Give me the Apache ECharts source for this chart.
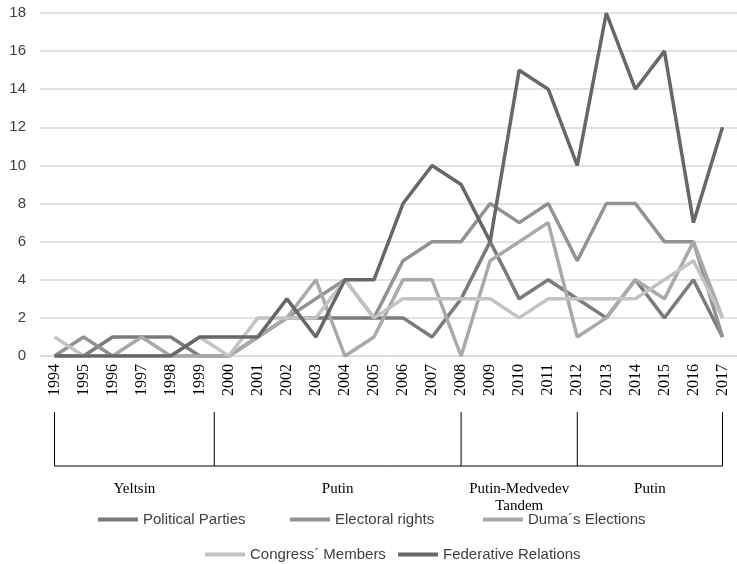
<!DOCTYPE html>
<html>
<head>
<meta charset="utf-8">
<script src="https://cdn.jsdelivr.net/npm/echarts@6/dist/echarts.min.js"></script>
<style>
  html, body { margin: 0; padding: 0; background: #fff; }
  #container { width: 737px; height: 564px; }
</style>
</head>
<body>
<div id="container"></div>
<script>
// years on the x axis
var years = ['1994','1995','1996','1997','1998','1999','2000','2001','2002','2003','2004','2005',
             '2006','2007','2008','2009','2010','2011','2012','2013','2014','2015','2016','2017'];

var politicalParties   = [0,0,1,1,1,0, 0,1,2,2,2,2, 2,1,3,6,3,4, 3,2,4,2,4,1];
var electoralRights    = [0,1,0,0,0,0, 0,1,2,3,4,2, 5,6,6,8,7,8, 5,8,8,6,6,1];
var dumaElections      = [0,0,0,1,0,0, 0,1,2,4,0,1, 4,4,0,5,6,7, 1,2,4,3,6,2];
var congressMembers    = [1,0,0,0,0,1, 0,2,2,2,4,2, 3,3,3,3,2,3, 3,3,3,4,5,2];
var federativeRelations= [0,0,0,0,0,1, 1,1,3,1,4,4, 8,10,9,6,15,14, 10,18,14,16,7,12];

var seriesNames = ['Political Parties', 'Electoral rights', 'Duma\u00B4s Elections', 'Congress\u00B4 Members', 'Federative Relations'];
var seriesData  = [politicalParties, electoralRights, dumaElections, congressMembers, federativeRelations];
var seriesColors = ['#7b7b7b', '#929292', '#a9a9a9', '#c3c3c3', '#676767'];

// presidencies: boundaries in year units (1999.5 = between 1999 and 2000)
var eraNames  = ['Yeltsin', 'Putin', 'Putin-Medvedev\nTandem', 'Putin'];
var eraBounds = [1994, 1999.5, 2008, 2012, 2017];

// legend placement (two rows, like the original)
var legendLeft = [93, 285, 478, 200, 393];
var legendTop  = [507, 507, 507, 542, 542];

var series = [];
var legends = [];
for (var i = 0; i < seriesNames.length; i++) {
    series.push({
        name: seriesNames[i],
        type: 'line',
        data: seriesData[i],
        symbol: 'none',
        lineStyle: { width: 3.5, color: seriesColors[i] },
        itemStyle: { color: seriesColors[i] },
        z: i === 4 ? 3 : 2
    });
    legends.push({
        data: [seriesNames[i]],
        left: legendLeft[i],
        top: legendTop[i],
        icon: 'rect',
        itemWidth: 40,
        itemHeight: 4,
        itemGap: 4,
        textStyle: { color: '#404040', fontSize: 15, fontFamily: 'Liberation Sans Narrow, Liberation Sans, sans-serif' }
    });
}

var option = {
    backgroundColor: '#ffffff',
    animation: false,
    grid: { left: 40, right: 0, top: 13, bottom: 208 },
    legend: legends,
    xAxis: {
        type: 'category',
        data: years,
        boundaryGap: true,
        axisLine: { show: true, lineStyle: { color: '#d9d9d9', width: 1 } },
        axisTick: { show: false },
        axisLabel: {
            rotate: 90,
            margin: 8,
            color: '#000',
            fontSize: 16,
            fontFamily: 'Liberation Serif, serif'
        }
    },
    yAxis: {
        type: 'value',
        min: 0,
        max: 18,
        interval: 2,
        axisLine: { show: false },
        axisTick: { show: false },
        splitLine: { lineStyle: { color: '#d9d9d9', width: 1.5 } },
        axisLabel: { color: '#404040', fontSize: 15, margin: 14, fontFamily: 'Liberation Sans Narrow, Liberation Sans, sans-serif' }
    },
    series: series
};

var myChart = echarts.init(document.getElementById('container'));
myChart.setOption(option);

// bracket under the axis showing who was in power
function yearToX(y) {
    var base = Math.floor(y);
    var idx = base - 1994;
    var x0 = myChart.convertToPixel({ xAxisIndex: 0 }, years[idx]);
    if (y === base) return x0;
    var x1 = myChart.convertToPixel({ xAxisIndex: 0 }, years[idx + 1]);
    return x0 + (x1 - x0) * (y - base);
}

var bracketTop = 412, bracketY = 466;
var elements = [];
var xs = eraBounds.map(yearToX);
elements.push({
    type: 'line',
    shape: { x1: xs[0], y1: bracketY, x2: xs[xs.length - 1], y2: bracketY },
    style: { stroke: '#000', lineWidth: 1 }
});
for (var k = 0; k < xs.length; k++) {
    elements.push({
        type: 'line',
        shape: { x1: xs[k], y1: bracketTop, x2: xs[k], y2: bracketY },
        style: { stroke: '#000', lineWidth: 1 }
    });
}
for (var e = 0; e < eraNames.length; e++) {
    elements.push({
        type: 'text',
        x: (xs[e] + xs[e + 1]) / 2,
        y: 481,
        style: {
            text: eraNames[e],
            fill: '#000',
            fontSize: 15,
            fontFamily: 'Liberation Serif, serif',
            align: 'center',
            verticalAlign: 'top',
            lineHeight: 17
        }
    });
}
myChart.setOption({ graphic: elements });

window.addEventListener('resize', function () {
    myChart.resize();
});
</script>
</body>
</html>
